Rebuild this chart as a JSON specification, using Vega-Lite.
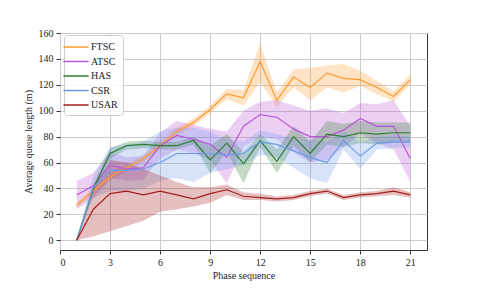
{
  "$schema": "https://vega.github.io/schema/vega-lite/v6.json",
  "width": 367,
  "height": 217,
  "autosize": {"type": "none"},
  "padding": {"left": 60, "top": 33, "right": 54, "bottom": 39},
  "background": "white",
  "config": {
    "font": "Liberation Serif",
    "view": {"stroke": "#333", "strokeWidth": 1},
    "axis": {
      "labelFont": "Liberation Serif",
      "titleFont": "Liberation Serif",
      "labelFontSize": 10,
      "titleFontSize": 10,
      "titleFontWeight": "normal",
      "labelColor": "#222",
      "titleColor": "#222",
      "tickColor": "#333",
      "tickSize": 4,
      "domain": false,
      "gridColor": "#cccccc",
      "gridWidth": 1,
      "labelOverlap": false
    },
    "legend": {
      "labelFont": "Liberation Serif",
      "labelFontSize": 10,
      "labelColor": "#222"
    }
  },
  "data": {
    "values": [
      {"series":"FTSC","x":1,"m":27,"lo":25,"hi":29},
      {"series":"FTSC","x":2,"m":38,"lo":35,"hi":41},
      {"series":"FTSC","x":3,"m":49,"lo":46,"hi":52},
      {"series":"FTSC","x":4,"m":56,"lo":53,"hi":59},
      {"series":"FTSC","x":5,"m":63,"lo":60,"hi":66},
      {"series":"FTSC","x":6,"m":73,"lo":70,"hi":76},
      {"series":"FTSC","x":7,"m":84,"lo":81,"hi":87},
      {"series":"FTSC","x":8,"m":91,"lo":88,"hi":94},
      {"series":"FTSC","x":9,"m":101,"lo":98,"hi":104},
      {"series":"FTSC","x":10,"m":113,"lo":109,"hi":117},
      {"series":"FTSC","x":11,"m":110,"lo":104,"hi":116},
      {"series":"FTSC","x":12,"m":138,"lo":122,"hi":152},
      {"series":"FTSC","x":13,"m":108,"lo":103,"hi":114},
      {"series":"FTSC","x":14,"m":126,"lo":118,"hi":132},
      {"series":"FTSC","x":15,"m":118,"lo":108,"hi":133},
      {"series":"FTSC","x":16,"m":129,"lo":118,"hi":135},
      {"series":"FTSC","x":17,"m":125,"lo":114,"hi":136},
      {"series":"FTSC","x":18,"m":124,"lo":119,"hi":131},
      {"series":"FTSC","x":19,"m":118,"lo":113,"hi":123},
      {"series":"FTSC","x":20,"m":111,"lo":107,"hi":115},
      {"series":"FTSC","x":21,"m":124,"lo":120,"hi":128},

      {"series":"ATSC","x":1,"m":35,"lo":24,"hi":46},
      {"series":"ATSC","x":2,"m":42,"lo":32,"hi":52},
      {"series":"ATSC","x":3,"m":58,"lo":48,"hi":68},
      {"series":"ATSC","x":4,"m":55,"lo":46,"hi":64},
      {"series":"ATSC","x":5,"m":56,"lo":47,"hi":65},
      {"series":"ATSC","x":6,"m":73,"lo":63,"hi":83},
      {"series":"ATSC","x":7,"m":81,"lo":70,"hi":92},
      {"series":"ATSC","x":8,"m":78,"lo":67,"hi":89},
      {"series":"ATSC","x":9,"m":74,"lo":62,"hi":86},
      {"series":"ATSC","x":10,"m":64,"lo":44,"hi":84},
      {"series":"ATSC","x":11,"m":88,"lo":72,"hi":100},
      {"series":"ATSC","x":12,"m":97,"lo":80,"hi":107},
      {"series":"ATSC","x":13,"m":95,"lo":78,"hi":108},
      {"series":"ATSC","x":14,"m":86,"lo":68,"hi":104},
      {"series":"ATSC","x":15,"m":80,"lo":60,"hi":100},
      {"series":"ATSC","x":16,"m":80,"lo":62,"hi":102},
      {"series":"ATSC","x":17,"m":85,"lo":72,"hi":98},
      {"series":"ATSC","x":18,"m":94,"lo":82,"hi":106},
      {"series":"ATSC","x":19,"m":88,"lo":75,"hi":105},
      {"series":"ATSC","x":20,"m":88,"lo":70,"hi":108},
      {"series":"ATSC","x":21,"m":63,"lo":45,"hi":88},

      {"series":"HAS","x":1,"m":0,"lo":0,"hi":0},
      {"series":"HAS","x":2,"m":40,"lo":37,"hi":43},
      {"series":"HAS","x":3,"m":67,"lo":63,"hi":71},
      {"series":"HAS","x":4,"m":73,"lo":70,"hi":76},
      {"series":"HAS","x":5,"m":74,"lo":71,"hi":77},
      {"series":"HAS","x":6,"m":73,"lo":70,"hi":76},
      {"series":"HAS","x":7,"m":73,"lo":70,"hi":76},
      {"series":"HAS","x":8,"m":77,"lo":74,"hi":80},
      {"series":"HAS","x":9,"m":62,"lo":52,"hi":73},
      {"series":"HAS","x":10,"m":75,"lo":68,"hi":82},
      {"series":"HAS","x":11,"m":59,"lo":44,"hi":68},
      {"series":"HAS","x":12,"m":77,"lo":72,"hi":82},
      {"series":"HAS","x":13,"m":61,"lo":52,"hi":70},
      {"series":"HAS","x":14,"m":80,"lo":73,"hi":88},
      {"series":"HAS","x":15,"m":67,"lo":60,"hi":76},
      {"series":"HAS","x":16,"m":82,"lo":74,"hi":92},
      {"series":"HAS","x":17,"m":80,"lo":72,"hi":90},
      {"series":"HAS","x":18,"m":83,"lo":75,"hi":92},
      {"series":"HAS","x":19,"m":82,"lo":74,"hi":91},
      {"series":"HAS","x":20,"m":83,"lo":75,"hi":91},
      {"series":"HAS","x":21,"m":83,"lo":75,"hi":91},

      {"series":"CSR","x":1,"m":0,"lo":0,"hi":0},
      {"series":"CSR","x":2,"m":41,"lo":33,"hi":50},
      {"series":"CSR","x":3,"m":54,"lo":38,"hi":72},
      {"series":"CSR","x":4,"m":54,"lo":38,"hi":74},
      {"series":"CSR","x":5,"m":55,"lo":40,"hi":76},
      {"series":"CSR","x":6,"m":60,"lo":46,"hi":84},
      {"series":"CSR","x":7,"m":67,"lo":48,"hi":87},
      {"series":"CSR","x":8,"m":67,"lo":45,"hi":87},
      {"series":"CSR","x":9,"m":67,"lo":52,"hi":84},
      {"series":"CSR","x":10,"m":66,"lo":55,"hi":78},
      {"series":"CSR","x":11,"m":67,"lo":58,"hi":76},
      {"series":"CSR","x":12,"m":76,"lo":66,"hi":85},
      {"series":"CSR","x":13,"m":74,"lo":64,"hi":82},
      {"series":"CSR","x":14,"m":69,"lo":56,"hi":78},
      {"series":"CSR","x":15,"m":64,"lo":48,"hi":78},
      {"series":"CSR","x":16,"m":60,"lo":44,"hi":76},
      {"series":"CSR","x":17,"m":77,"lo":70,"hi":84},
      {"series":"CSR","x":18,"m":65,"lo":55,"hi":76},
      {"series":"CSR","x":19,"m":75,"lo":70,"hi":80},
      {"series":"CSR","x":20,"m":76,"lo":71,"hi":81},
      {"series":"CSR","x":21,"m":76,"lo":72,"hi":80},

      {"series":"USAR","x":1,"m":0,"lo":0,"hi":0},
      {"series":"USAR","x":2,"m":24,"lo":3,"hi":40},
      {"series":"USAR","x":3,"m":36,"lo":7,"hi":62},
      {"series":"USAR","x":4,"m":38,"lo":11,"hi":60},
      {"series":"USAR","x":5,"m":35,"lo":15,"hi":55},
      {"series":"USAR","x":6,"m":38,"lo":22,"hi":50},
      {"series":"USAR","x":7,"m":35,"lo":24,"hi":45},
      {"series":"USAR","x":8,"m":32,"lo":26,"hi":41},
      {"series":"USAR","x":9,"m":36,"lo":29,"hi":41},
      {"series":"USAR","x":10,"m":39,"lo":35,"hi":43},
      {"series":"USAR","x":11,"m":34,"lo":31,"hi":37},
      {"series":"USAR","x":12,"m":33,"lo":31,"hi":36},
      {"series":"USAR","x":13,"m":32,"lo":30,"hi":34},
      {"series":"USAR","x":14,"m":33,"lo":31,"hi":35},
      {"series":"USAR","x":15,"m":36,"lo":34,"hi":38},
      {"series":"USAR","x":16,"m":38,"lo":36,"hi":40},
      {"series":"USAR","x":17,"m":33,"lo":31,"hi":35},
      {"series":"USAR","x":18,"m":35,"lo":33,"hi":37},
      {"series":"USAR","x":19,"m":36,"lo":34,"hi":38},
      {"series":"USAR","x":20,"m":38,"lo":35,"hi":41},
      {"series":"USAR","x":21,"m":35,"lo":33,"hi":37}
    ]
  },
  "encoding": {
    "x": {
      "field": "x", "type": "quantitative",
      "scale": {"domain": [0, 22], "nice": false, "zero": false},
      "axis": {"values": [0, 3, 6, 9, 12, 15, 18, 21], "title": "Phase sequence", "labelPadding": 3, "titlePadding": 3}
    },
    "color": {
      "field": "series", "type": "nominal",
      "scale": {
        "domain": ["FTSC", "ATSC", "HAS", "CSR", "USAR"],
        "range": ["#ff9a2e", "#b957d9", "#2e7d32", "#6a9bea", "#a51c1c"]
      },
      "legend": {
        "title": null,
        "orient": "none",
        "legendX": 4,
        "legendY": 2,
        "symbolType": "M-2.1,0H2.1",
        "symbolSize": 144,
        "symbolStrokeWidth": 1.5,
        "symbolFillColor": "transparent",
        "symbolOpacity": 1,
        "labelOffset": 8,
        "rowPadding": 2.5,
        "padding": 5,
        "fillColor": "rgba(255,255,255,0.85)",
        "strokeColor": "#cccccc",
        "cornerRadius": 3
      }
    }
  },
  "layer": [
    {
      "mark": {"type": "area", "opacity": 0.28},
      "encoding": {
        "y": {"field": "lo", "type": "quantitative",
              "scale": {"domain": [-7.5, 160], "nice": false, "zero": false},
              "axis": {"values": [0, 20, 40, 60, 80, 100, 120, 140, 160], "title": "Average queue length (m)", "labelPadding": 3, "titlePadding": 5}},
        "y2": {"field": "hi"}
      }
    },
    {
      "mark": {"type": "line", "strokeWidth": 1.2},
      "encoding": {
        "y": {"field": "m", "type": "quantitative",
              "axis": {"values": [0, 20, 40, 60, 80, 100, 120, 140, 160], "title": "Average queue length (m)", "labelPadding": 3, "titlePadding": 5}}
      }
    }
  ]
}
